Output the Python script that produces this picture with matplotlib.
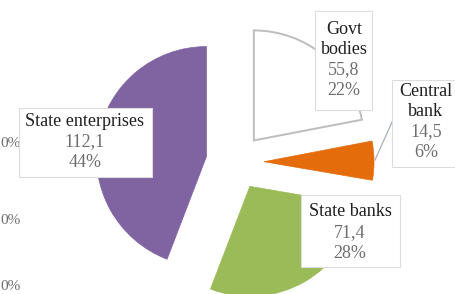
import matplotlib
matplotlib.use("Agg")
import matplotlib.pyplot as plt
from matplotlib.patches import Rectangle

# data
categories = ["Govt\nbodies", "Central\nbank", "State banks", "State enterprises"]
values = [55.8, 14.5, 71.4, 112.1]
value_labels = ["55,8", "14,5", "71,4", "112,1"]
pct_labels = ["22%", "6%", "28%", "44%"]
colors = ["#ffffff", "#e46c0a", "#9bbb59", "#8064a2"]
edge_colors = ["#bdbdbd", "#e46c0a", "#9bbb59", "#8064a2"]
# visible ends of the tick labels of the neighbouring chart on the left
side_ticks = ["0%", "0%", "0%"]

W, H = 456, 294
fig = plt.figure(figsize=(W / 100, H / 100), dpi=100)
ax = fig.add_axes([0, 0, 1, 1])

wedges, _ = ax.pie(
    values,
    colors=colors,
    startangle=90,
    counterclock=False,
    radius=110,
    center=(236, H - 162),
    explode=[28, 28, 28, 30],
    frame=True,
)
for w, ec in zip(wedges, edge_colors):
    w.set_edgecolor(ec)
    w.set_linewidth(1.4 if ec == "#bdbdbd" else 0.5)
ax.set_xlim(0, W)
ax.set_ylim(0, H)
ax.set_aspect("equal")
ax.axis("off")

# label boxes (image pixel layout): x0, y0, x1, y1, text centre x, first line centre y
boxes = [
    (315, 11, 372, 110, 344, 29),
    (392, 80, 455, 167, 426, 91),
    (301, 195, 400, 267, 350, 212),
    (19, 108, 152, 177, 85, 121),
]
font = "Liberation Serif"
step = 20.5
for cat, val, pct, (x0, y0, x1, y1, cx, cy) in zip(categories, value_labels, pct_labels, boxes):
    ax.add_patch(Rectangle((x0, H - y1), x1 - x0, y1 - y0, facecolor="white",
                           edgecolor="#dcdcdc", linewidth=0.8, zorder=5))
    lines = [(t, "#1f1f1f") for t in cat.split("\n")] + [(val, "#6e6e6e"), (pct, "#6e6e6e")]
    for i, (t, c) in enumerate(lines):
        ax.text(cx, H - (cy + i * step), t, ha="center", va="center", color=c,
                fontsize=13, family=font, zorder=6)

# leader line for the central bank label
ax.plot([392, 375], [H - 122, H - 160], color="#a9b0bd", linewidth=0.9, zorder=4)

for t, y in zip(side_ticks, [143, 220, 286]):
    ax.text(0, H - y, t, ha="left", va="center", color="#6e6e6e",
            fontsize=11, family=font)

fig.savefig("out.png", dpi=100)
